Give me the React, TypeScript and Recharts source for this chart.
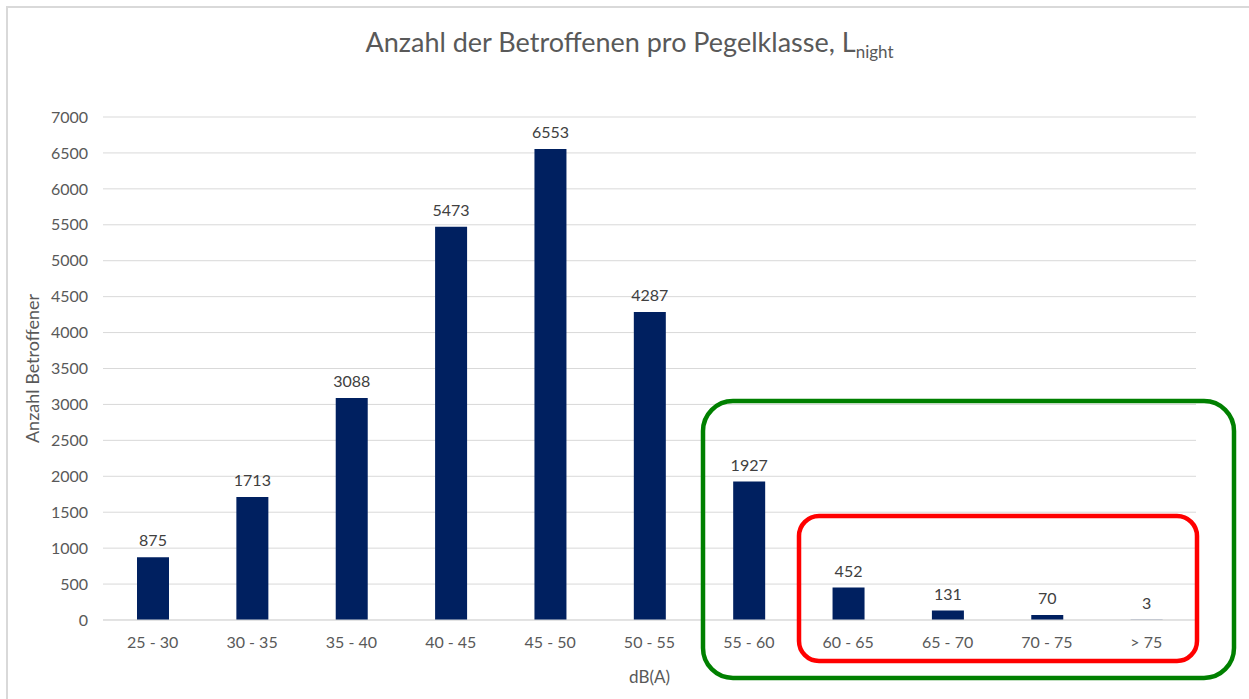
import React from 'react';
import { BarChart, Bar, XAxis, YAxis, CartesianGrid, LabelList } from 'recharts';

// Pegelklassen (dB(A)) und Anzahl der Betroffenen, L_night
const classes = ['25 - 30', '30 - 35', '35 - 40', '40 - 45', '45 - 50', '50 - 55', '55 - 60', '60 - 65', '65 - 70', '70 - 75', '> 75'];
const affected = [875, 1713, 3088, 5473, 6553, 4287, 1927, 452, 131, 70, 3];
const yTicks = [0, 500, 1000, 1500, 2000, 2500, 3000, 3500, 4000, 4500, 5000, 5500, 6000, 6500, 7000];

const data = classes.map((c, i) => ({ range: c, count: affected[i] }));

const FONT = 'Lato, "Open Sans", sans-serif';
const GRID = '#d9d9d9';
const TEXT = '#595959';

export default function App() {
  return (
    <div
      style={{
        position: 'absolute',
        left: 0,
        top: 0,
        width: 1249,
        height: 699,
        overflow: 'hidden',
        background: '#fff',
        fontFamily: FONT,
      }}
    >
      {/* chart frame, cut off at right/bottom like in the screenshot */}
      <div
        style={{
          position: 'absolute',
          left: 6,
          top: 6,
          width: 1300,
          height: 800,
          border: `2px solid ${GRID}`,
        }}
      />

      <div
        style={{
          position: 'absolute',
          left: 0,
          right: 0,
          top: 25,
          paddingLeft: 10,
          textAlign: 'center',
          fontSize: 27,
          color: TEXT,
          whiteSpace: 'nowrap',
        }}
      >
        Anzahl der Betroffenen pro Pegelklasse, L<sub style={{ fontSize: 17 }}>night</sub>
      </div>

      <div style={{ position: 'absolute', left: 0, top: 0 }}>
        <BarChart
          width={1249}
          height={699}
          data={data}
          margin={{ top: 117, right: 53, bottom: 0, left: 0 }}
          style={{ fontFamily: FONT }}
        >
          <CartesianGrid vertical={false} stroke={GRID} strokeWidth={1} />
          <XAxis
            dataKey="range"
            height={79}
            interval={0}
            tickLine={false}
            tickSize={0}
            tickMargin={17}
            axisLine={{ stroke: GRID }}
            tick={{ fill: TEXT, fontSize: 16 }}
            label={{ value: 'dB(A)', position: 'insideBottom', offset: 16, fill: TEXT, fontSize: 17 }}
          />
          <YAxis
            width={103}
            domain={[0, 7000]}
            ticks={yTicks}
            interval={0}
            axisLine={false}
            tickLine={false}
            tickSize={0}
            tickMargin={15}
            tick={{ fill: TEXT, fontSize: 16 }}
            label={{
              value: 'Anzahl Betroffener',
              angle: -90,
              position: 'insideLeft',
              offset: 33,
              style: { textAnchor: 'middle', fill: TEXT, fontSize: 18 },
            }}
          />
          <Bar dataKey="count" fill="#002060" barSize={32} isAnimationActive={false}>
            <LabelList dataKey="count" position="top" offset={11} fill="#404040" fontSize={16} />
          </Bar>
        </BarChart>
      </div>

      {/* Markierungen: >= 55 dB(A) (grün) und >= 60 dB(A) (rot) */}
      <svg
        width={1249}
        height={699}
        style={{ position: 'absolute', left: 0, top: 0, pointerEvents: 'none' }}
      >
        <rect x={703} y={401} width={531} height={277} rx={30} ry={30} fill="none" stroke="#008000" strokeWidth={4.5} />
        <rect x={799} y={516} width={398} height={145} rx={20} ry={20} fill="none" stroke="#ff0000" strokeWidth={4.5} />
      </svg>
    </div>
  );
}
